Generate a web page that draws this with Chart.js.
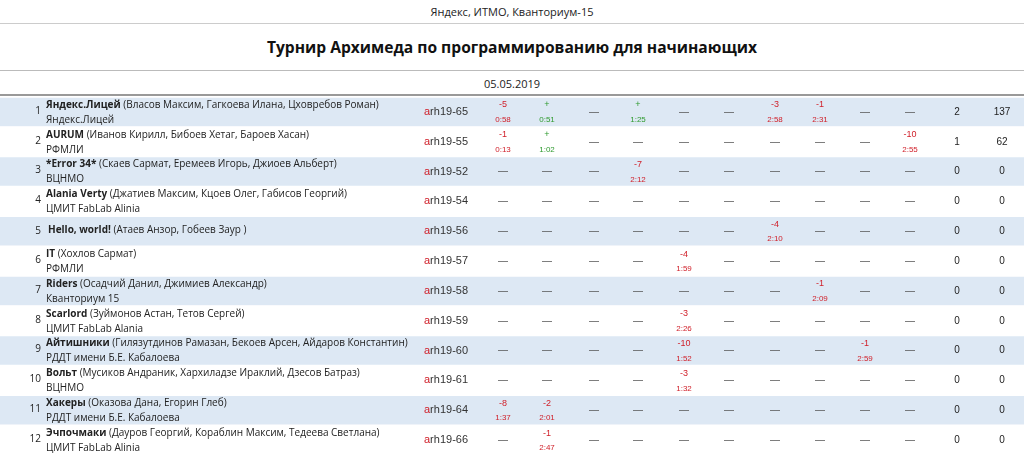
<!DOCTYPE html>
<html><head><meta charset="utf-8">
<script src="https://cdn.jsdelivr.net/npm/chart.js@4/dist/chart.umd.min.js"></script>
<style>
body{margin:0;background:#fff;font-family:"Open Sans",sans-serif;}
#hdr{position:relative;width:1024px;height:97px;}
#t1{position:absolute;top:4px;width:100%;text-align:center;font-size:11px;color:#222}
#l1{position:absolute;top:23px;left:0;width:1024px;border-top:1px solid #ccc}
#t2{position:absolute;top:36px;width:100%;text-align:center;font-size:15.6px;font-weight:bold;color:#111}
#l2{position:absolute;top:70px;left:0;width:1024px;border-top:1px solid #bbb}
#t3{position:absolute;top:76px;width:100%;text-align:center;font-size:11px;color:#222}
#l3{position:absolute;top:94px;left:0;width:1024px;border-top:2px solid #999}
</style></head><body>
<div id="hdr"><div id="t1">Яндекс, ИТМО, Кванториум-15</div><div id="l1"></div>
<div id="t2">Турнир Архимеда по программированию для начинающих</div><div id="l2"></div>
<div id="t3">05.05.2019</div><div id="l3"></div></div>
<canvas id="c" width="1024" height="358"></canvas>
<script>
const places=[1,2,3,4,5,6,7,8,9,10,11,12];
const teams=["Яндекс.Лицей","AURUM","*Error 34*","Alania Verty","Hello, world!","IT","Riders","Scarlord","Айтишники","Вольт","Хакеры","Эчпочмаки"];
const members=["(Власов Максим, Гагкоева Илана, Цховребов Роман)","(Иванов Кирилл, Бибоев Хетаг, Бароев Хасан)","(Скаев Сармат, Еремеев Игорь, Джиоев Альберт)","(Джатиев Максим, Кцоев Олег, Габисов Георгий)","(Атаев Анзор, Гобеев Заур )","(Хохлов Сармат)","(Осадчий Данил, Джимиев Александр)","(Зуймонов Астан, Тетов Сергей)","(Гилязутдинов Рамазан, Бекоев Арсен, Айдаров Константин)","(Мусиков Андраник, Хархиладзе Ираклий, Дзесов Батраз)","(Оказова Дана, Егорин Глеб)","(Дауров Георгий, Кораблин Максим, Тедеева Светлана)"];
const orgs=["Яндекс.Лицей","РФМЛИ","ВЦНМО","ЦМИТ FabLab Alinia","","РФМЛИ","Кванториум 15","ЦМИТ FabLab Alania","РДДТ имени Б.Е. Кабалоева","ВЦНМО","РДДТ имени Б.Е. Кабалоева","ЦМИТ FabLab Alinia"];
const logins=["arh19-65","arh19-55","arh19-52","arh19-54","arh19-56","arh19-57","arh19-58","arh19-59","arh19-60","arh19-61","arh19-64","arh19-66"];
// results per problem A..J: "" = not attempted, else "tries|time"
const results=[
["-5|0:58","+|0:51","","+|1:25","","","-3|2:58","-1|2:31","",""],
["-1|0:13","+|1:02","","","","","","","","-10|2:55"],
["","","","-7|2:12","","","","","",""],
["","","","","","","","","",""],
["","","","","","","-4|2:10","","",""],
["","","","","-4|1:59","","","","",""],
["","","","","","","","-1|2:09","",""],
["","","","","-3|2:26","","","","",""],
["","","","","-10|1:52","","","","-1|2:59",""],
["","","","","-3|1:32","","","","",""],
["-8|1:37","-2|2:01","","","","","","","",""],
["","-1|2:47","","","","","","","",""]];
const solved=[2,1,0,0,0,0,0,0,0,0,0,0];
const scores=[137,62,0,0,0,0,0,0,0,0,0,0];

const probX=[503,547,594,638,684,729,775,820,865,910];
const tablePlugin={id:'tbl',afterDatasetsDraw(ch){
 const c=ch.ctx,xs=ch.scales.x,ys=ch.scales.y;c.save();c.textBaseline='middle';
 places.forEach((p,i)=>{
  const y=ys.getPixelForValue(i);
  c.fillStyle='#222';c.font='10px "Open Sans"';c.textAlign='right';c.fillText(p,xs.getPixelForValue(41),orgs[i]?y-1:y);
  c.textAlign='left';
  const tx=xs.getPixelForValue(i==4?48:46), ty=orgs[i]?y-7:y-1;
  c.font='bold 10px "Open Sans"';c.fillText(teams[i],tx,ty);
  const w=c.measureText(teams[i]+' ').width;
  c.font='10px "Open Sans"';c.fillText(members[i],tx+w,ty);
  if(orgs[i])c.fillText(orgs[i],xs.getPixelForValue(46),y+8);
  c.font='11px "Liberation Sans"';
  const lx=xs.getPixelForValue(424);c.fillStyle='#d0202a';c.fillText('a',lx,y);
  const aw=c.measureText('a').width;c.fillStyle='#333';c.fillText(logins[i].slice(1),lx+aw,y);
  c.textAlign='center';
  results[i].forEach((r,j)=>{const x=xs.getPixelForValue(probX[j]);
   if(!r){c.fillStyle='#555';c.font='10px "Liberation Sans"';c.fillText('—',x,y);return;}
   const [a,t]=r.split('|');c.fillStyle=a[0]=='+'?'#2e9a2e':'#d0202a';
   c.font='9px "Liberation Sans"';c.fillText(a,x,y-7);c.font='8px "Liberation Sans"';c.fillText(t,x,y+8);});
  c.fillStyle='#222';c.font='10px "Liberation Sans"';
  c.fillText(solved[i],xs.getPixelForValue(957),y);c.fillText(scores[i],xs.getPixelForValue(1002),y);
 });c.restore();}};
new Chart(document.getElementById('c'),{type:'bar',
 data:{labels:places,datasets:[{data:places.map(()=>[0,1024]),
  backgroundColor:places.map((p,i)=>i%2==0?'#dde8f4':'#ffffff'),borderColor:'#ffffff',borderWidth:{top:1,bottom:1},
  barPercentage:1,categoryPercentage:1}]},
 options:{indexAxis:'y',responsive:false,animation:false,devicePixelRatio:1,layout:{padding:0},
  plugins:{legend:{display:false},tooltip:{enabled:false}},
  scales:{x:{type:'linear',min:0,max:1024,display:false},y:{display:false}}},
 plugins:[tablePlugin]});
</script></body></html>
